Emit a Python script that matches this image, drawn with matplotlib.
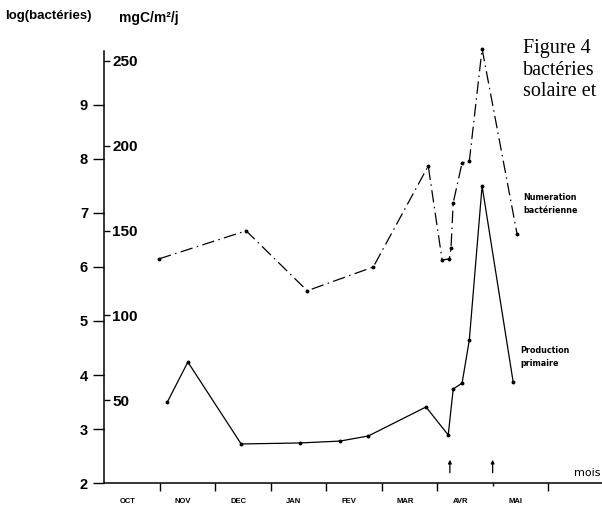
import matplotlib
matplotlib.use("Agg")
import matplotlib.pyplot as plt

plt.rcParams["font.family"] = ["Liberation Sans", "DejaVu Sans"]

# months on the x axis, 0 = start of October
month_labels = ["OCT", "NOV", "DEC", "JAN", "FEV", "MAR", "AVR", "MAI"]
month_ticks = [1, 2, 3, 4, 5, 6, 7, 8]

# bacterial count, log(bacteries)
bact_x = [0.99, 2.56, 3.66, 4.85, 5.84, 6.09, 6.22, 6.25, 6.29, 6.45, 6.58, 6.81, 7.44]
bact_log = [6.15, 6.67, 5.56, 6.00, 7.87, 6.13, 6.15, 6.35, 7.19, 7.93, 7.96, 10.04, 6.61]

# primary production, mgC/m2/j
prod_x = [1.14, 1.51, 2.47, 3.53, 4.25, 4.76, 5.80, 6.20, 6.29, 6.45, 6.58, 6.81, 7.37]
prod_mgc = [48.9, 72.5, 24.2, 24.8, 25.9, 28.9, 46.0, 29.5, 56.6, 60.1, 85.5, 176.3, 60.7]

log_ticks = [2, 3, 4, 5, 6, 7, 8, 9]
mgc_ticks = [50, 100, 150, 200, 250]

arrow_x = [6.23, 7.0]

fig = plt.figure(figsize=(6.02, 5.15), dpi=100)
ax = fig.add_axes([0.1728, 0.0621, 0.8272, 0.8505])
ax2 = ax.twinx()

ax.set_xlim(0, 8.97)
ax.set_ylim(2, 10.11)
ax2.set_ylim(1.18, 259.4)

for side in ["top", "right"]:
    ax.spines[side].set_visible(False)
for side in ["top", "left", "bottom", "right"]:
    ax2.spines[side].set_visible(False)
ax.spines["left"].set_bounds(2, 10.0)
ax.spines["left"].set_linewidth(1.1)
ax.spines["bottom"].set_linewidth(1.1)

# left axis: log(bacteries)
ax.set_yticks(log_ticks)
ax.set_yticklabels([str(v) for v in log_ticks])
ax.tick_params(axis="y", direction="out", length=8, width=1.0, pad=3.5,
               labelsize=10.5)
for lab in ax.get_yticklabels():
    lab.set_fontweight("bold")

# right-of-spine axis: mgC/m2/j
ax2.spines["right"].set_position(("axes", 0.0))
ax2.yaxis.set_ticks_position("right")
ax2.set_yticks(mgc_ticks)
ax2.set_yticklabels([str(v) for v in mgc_ticks])
ax2.tick_params(axis="y", direction="out", length=4.5, width=1.0, pad=1.5,
                labelsize=11)
for lab in ax2.get_yticklabels():
    lab.set_fontweight("bold")

# x axis: month boundaries and labels
ax.set_xticks(month_ticks)
ax.set_xticklabels([])
ax.tick_params(axis="x", direction="out", length=6, width=1.0)
ax.xaxis.get_major_ticks()[6].tick1line.set_markersize(2.5)
ax.set_xticks([i + 0.42 for i in range(len(month_labels))], minor=True)
ax.set_xticklabels(month_labels, minor=True, fontsize=5.5, fontweight="bold")
ax.tick_params(axis="x", which="minor", length=0, pad=11)

ax.plot(bact_x, bact_log, color="black", linewidth=0.9,
        linestyle=(0, (10, 3.5, 1.2, 3.5)), marker="o", markersize=1.8,
        clip_on=False)
ax2.plot(prod_x, prod_mgc, color="black", linewidth=0.9, marker="o",
         markersize=1.8, clip_on=False)

for xv in arrow_x:
    ax.annotate("", xy=(xv, 2.43), xytext=(xv, 2.19),
                arrowprops=dict(arrowstyle="-|>", color="black", lw=0.9,
                                mutation_scale=5, shrinkA=0, shrinkB=0))

ax.text(0.997, 0.012, "mois", transform=ax.transAxes, ha="right",
        va="bottom", fontsize=8, family="DejaVu Sans")

ax.text(7.55, 7.17, "Numeration\nbactérienne", fontsize=5.8,
        fontweight="bold", family="DejaVu Sans", ha="left", va="center",
        linespacing=1.5)
ax.text(7.50, 4.33, "Production\nprimaire", fontsize=5.8,
        fontweight="bold", family="DejaVu Sans", ha="left", va="center",
        linespacing=1.5)

fig.text(0.008, 0.969, "log(bactéries)", fontsize=9.5, fontweight="bold",
         ha="left", va="center")
fig.text(0.197, 0.965, "mgC/m²/j", fontsize=10, fontweight="bold",
         ha="left", va="center")

fig.text(0.869, 0.864, "Figure 4\nbactéries\nsolaire et", fontsize=14.5,
         family="Liberation Serif", ha="left", va="center", linespacing=1.2)

fig.savefig("out.png", dpi=100)
